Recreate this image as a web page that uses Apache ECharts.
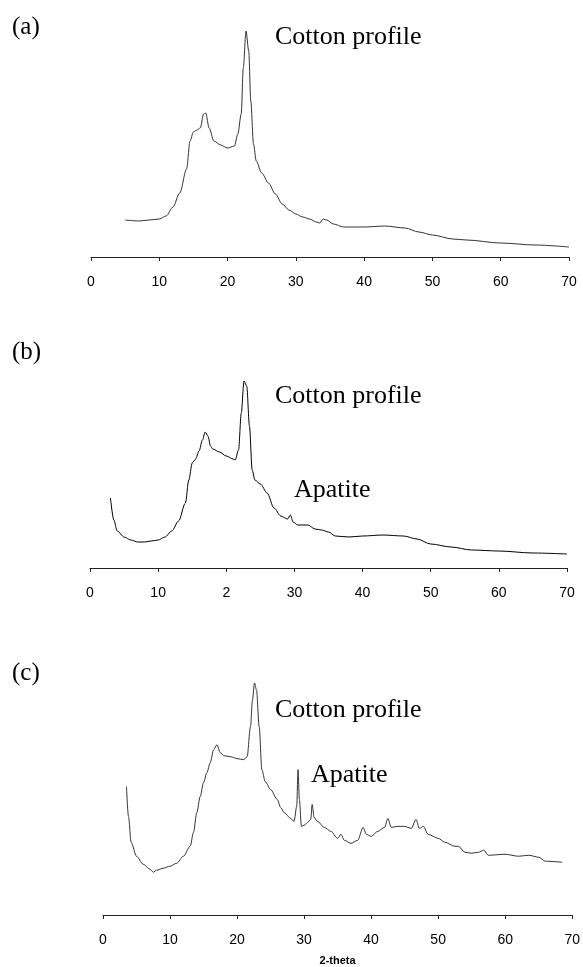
<!DOCTYPE html>
<html>
<head>
<meta charset="utf-8">
<title>XRD profiles</title>
<script src="https://cdn.jsdelivr.net/npm/echarts@6.0.0/dist/echarts.min.js"></script>
<style>
html,body{margin:0;padding:0;background:#fff;}
#chart{width:583px;height:967px;}
</style>
</head>
<body>
<div id="chart"></div>
<script>
// 2-theta positions and intensities
var thetaA=[5,7,8.5,10,11,12,13,14,14.5,15,15.5,16,16.5,16.8,17.3,18,19,20,21,21.5,22,22.3,22.7,23.1,23.4,23.8,24.2,25,26,27,28,29,30,31,32,33,33.5,34,34.5,35.5,37,40,43,46,48,50,53,55,60,65,70];
var countsA=[37,36,37,38,41,50,64,88,116,125,127,129,143,144,129,116,112,109,111,123,143,189,226,206,156,113,96,84,74,63,53,47,43,40,38,35,34,38,37,33,30,30,31,29,25,22,18,17,14,12,10];

var thetaB=[3,3.5,4,5,6,7,8,9,10,11,12,13,14,14.5,15,15.5,16,16.5,16.9,17.3,17.7,18,19,20,21,21.3,21.8,22.2,22.6,23,23.4,23.8,24.2,25,26,27,28,29,29.4,29.8,30.5,32,33,34,35,36,38,40,43,46,48,50,53,56,60,65,70];
var countsB=[70,48,37,31,28,26,26,27,28,31,37,47,65,88,105,109,117,128,136,132,122,119,116,112,109,108,118,155,187,182,142,98,88,84,75,60,52,49,53,46,43,43,39,38,36,32,31,32,33,32,29,24,21,18,17,15,14];

var thetaC=[3.5,3.8,4.2,5,6,7,7.5,8,9,10,11,12,13,13.5,14,14.5,15,15.5,16,16.5,17,17.5,18,19,20,21,21.5,22,22.3,22.6,22.9,23.3,23.7,24.2,25,26,26.5,27,28,28.5,28.9,29.1,29.3,29.6,30,30.5,31,31.2,31.5,32,33,34,35,35.5,36,37,38,38.8,39.3,40,41,42,42.5,43,44,45,46,46.7,47.2,47.8,48.5,50,51,52.5,53,54,55,56,56.8,57.5,60,62,63.5,65,66,68.5];
var countsC=[129,99,73,59,51,46,43,45,47,49,52,59,69,83,103,119,133,143,153,166,171,163,160,159,157,156,159,189,216,233,226,189,146,134,126,116,108,103,97,94,109,146,116,89,90,93,96,111,98,94,88,84,77,81,75,72,75,88,81,79,84,88,97,88,89,89,87,96,87,89,81,77,73,69,69,63,62,63,65,60,61,59,60,58,54,53];

var tickValues=[0,10,20,30,40,50,60,70];
var tickLabelsA=['0','10','20','30','40','50','60','70'];
var tickLabelsB=['0','10','2','30','40','50','60','70'];
var tickLabelsC=['0','10','20','30','40','50','60','70'];

function pairs(xs,ys){
	var out=[];
	for(var i=0;i<xs.length;i++){
		out.push([xs[i],ys[i]]);
	}
	return out;
}

function makeXAxis(idx,labels,name){
	return {
		type:'value',
		gridIndex:idx,
		min:0,
		max:70,
		interval:10,
		name:name||'',
		nameLocation:'middle',
		nameGap:40,
		nameTextStyle:{fontFamily:'Liberation Sans',fontWeight:'bold',fontSize:11,color:'#000'},
		axisLine:{lineStyle:{color:'#222',width:1}},
		axisTick:{length:4,lineStyle:{color:'#222'}},
		splitLine:{show:false},
		axisLabel:{
			fontFamily:'Liberation Sans',
			fontSize:14,
			color:'#000',
			margin:18,
			formatter:function(v){
				var k=tickValues.indexOf(v);
				return k>=0?labels[k]:'';
			}
		}
	};
}

function makeSeries(idx,data,color){
	return {
		type:'line',
		xAxisIndex:idx,
		yAxisIndex:idx,
		data:data,
		showSymbol:false,
		symbol:'none',
		smooth:0.3,
		smoothMonotone:'x',
		lineStyle:{color:color,width:1}
	};
}

function label(text,x,y,size){
	return {
		type:'text',
		x:x,
		y:y,
		style:{
			text:text,
			font:size+'px "Liberation Serif"',
			fill:'#000',
			verticalAlign:'middle'
		}
	};
}

var chart=echarts.init(document.getElementById('chart'));
var option={
	backgroundColor:'#ffffff',
	animation:false,
	grid:[
		{left:91,right:14,top:17,height:240},
		{left:90,right:16,top:328,height:240},
		{left:103,right:4,top:676,height:240}
	],
	xAxis:[
		makeXAxis(0,tickLabelsA),
		makeXAxis(1,tickLabelsB),
		makeXAxis(2,tickLabelsC,'2-theta')
	],
	yAxis:[
		{type:'value',gridIndex:0,min:0,max:240,show:false},
		{type:'value',gridIndex:1,min:0,max:240,show:false},
		{type:'value',gridIndex:2,min:0,max:240,show:false}
	],
	series:[
		makeSeries(0,pairs(thetaA,countsA),'#333'),
		makeSeries(1,pairs(thetaB,countsB),'#000'),
		makeSeries(2,pairs(thetaC,countsC),'#333')
	],
	graphic:[
		label('(a)',12,27,25),
		label('Cotton profile',275,37,26),
		label('(b)',12,352,25),
		label('Cotton profile',275,396,26),
		label('Apatite',294,490,26),
		label('(c)',12,673,25),
		label('Cotton profile',275,710,26),
		label('Apatite',311,775,26)
	]
};
chart.setOption(option);
</script>
</body>
</html>
